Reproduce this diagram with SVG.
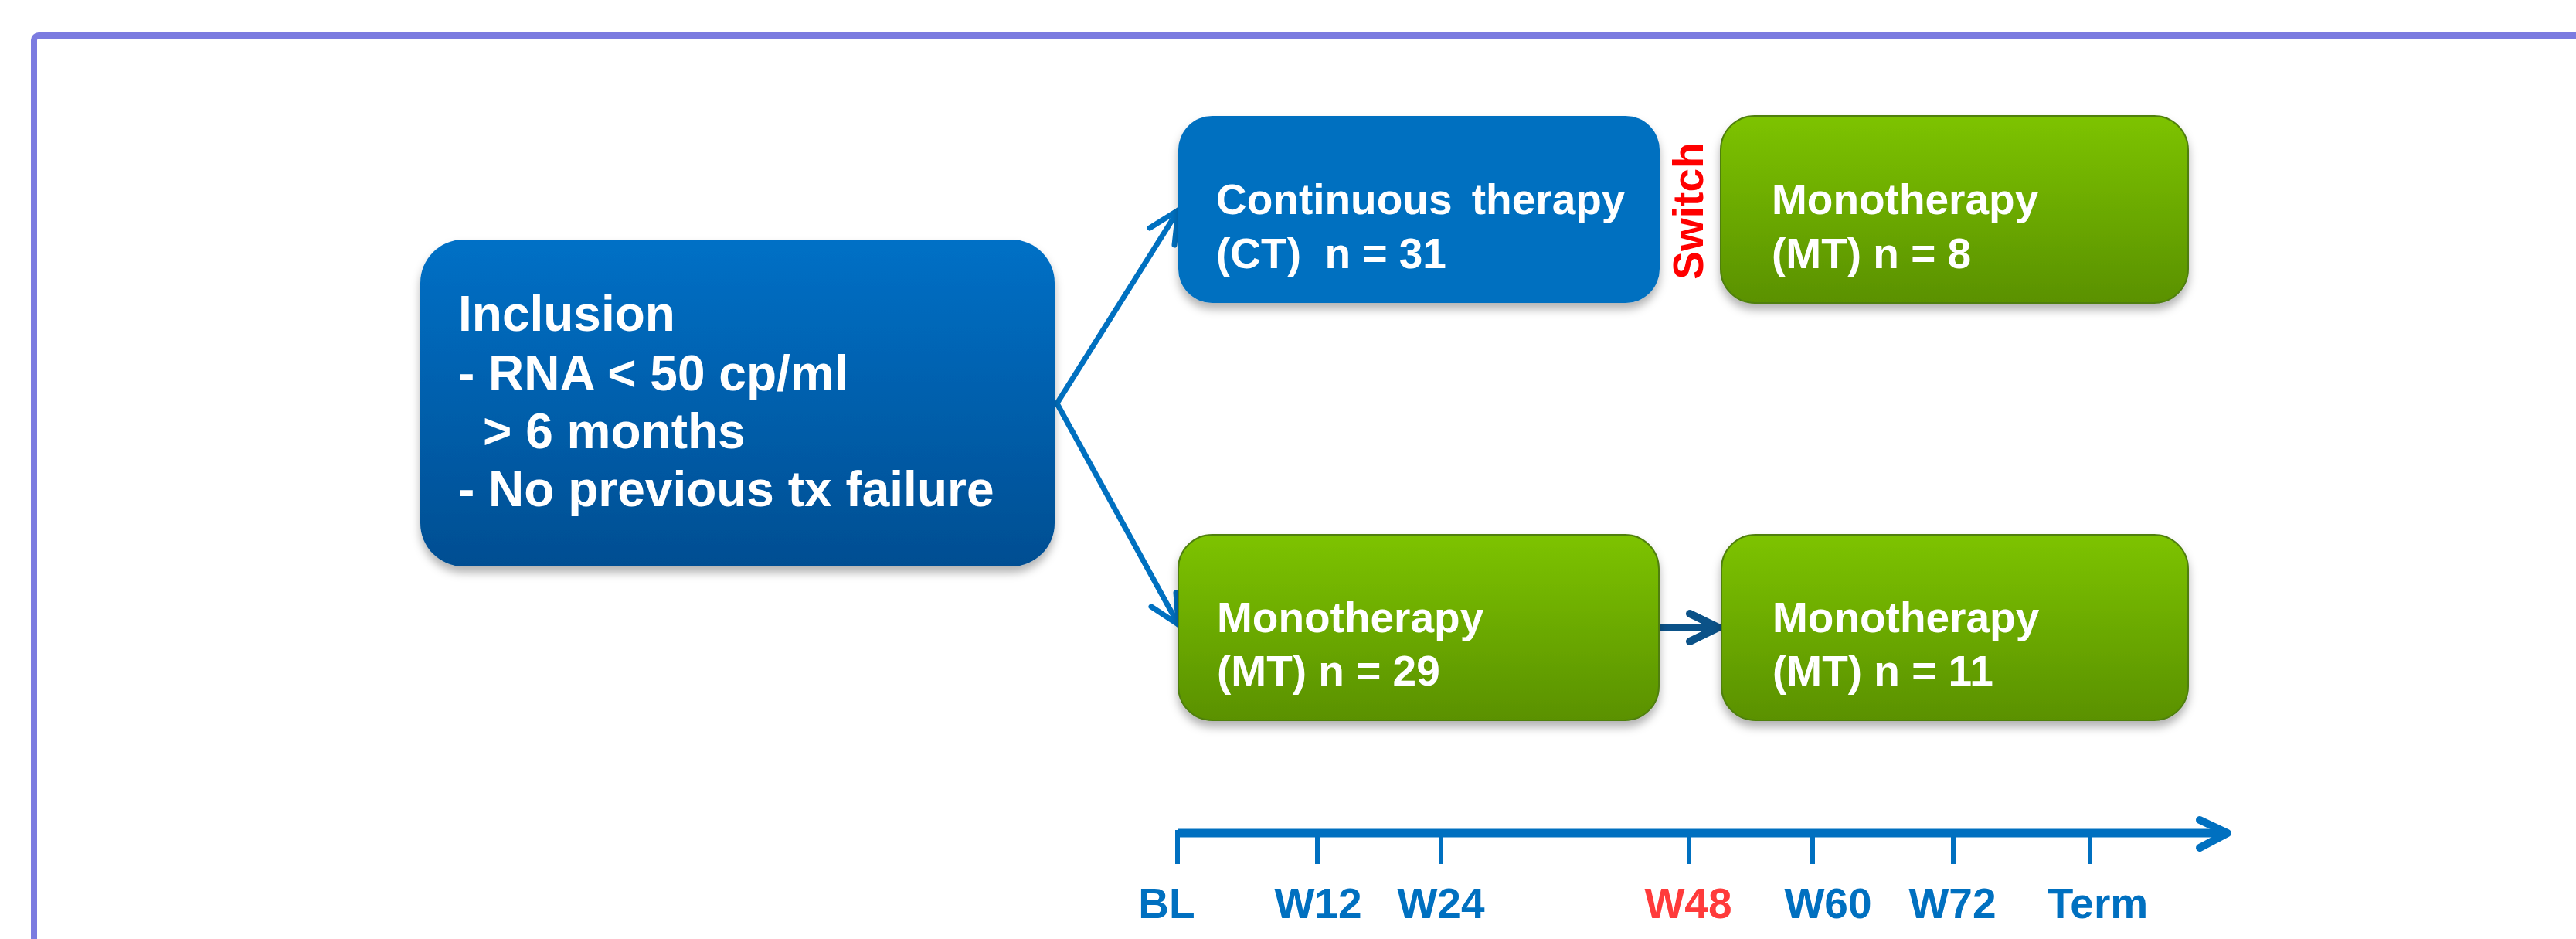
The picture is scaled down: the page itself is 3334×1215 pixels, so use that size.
<svg xmlns="http://www.w3.org/2000/svg" width="3334" height="1215" viewBox="0 0 3334 1215">
<style>
.t{font-family:"Liberation Sans",Arial,sans-serif;font-weight:bold;fill:#FFFFFF;}
.ax{font-family:"Liberation Sans",Arial,sans-serif;font-weight:bold;fill:#0070C0;font-size:55px;text-anchor:middle;}
.conn{stroke:#0070C0;stroke-width:7;fill:none;stroke-linecap:round;stroke-linejoin:round;}
.tick{stroke:#0070C0;stroke-width:6;fill:none;}
</style>
<defs>
<linearGradient id="gBlue" x1="0" y1="0" x2="0" y2="1">
<stop offset="0" stop-color="#0070C6"/>
<stop offset="1" stop-color="#004E92"/>
</linearGradient>
<linearGradient id="gGreen" x1="0" y1="0" x2="0" y2="1">
<stop offset="0" stop-color="#7DC300"/>
<stop offset="1" stop-color="#5A9100"/>
</linearGradient>
<filter id="sh" x="-10%" y="-10%" width="120%" height="130%">
<feDropShadow dx="0" dy="8" stdDeviation="6" flood-color="#000" flood-opacity="0.3"/>
</filter>
</defs>
<rect width="3334" height="1215" fill="#FFFFFF"/>
<rect x="44" y="46" width="3400" height="1300" rx="6" fill="none" stroke="#7B7BE0" stroke-width="8"/>

<g id="connectors">
<path class="conn" d="M1368,522 L1525,272"/>
<path class="conn" d="M1488,295 L1525,272 L1520,317"/>
<path class="conn" d="M1368,522 L1525,808"/>
<path class="conn" d="M1490,785 L1525,808 L1522,767"/>
<path d="M2147,812 L2222,812" stroke="#0B5288" stroke-width="10" fill="none"/>
<path d="M2187,794 L2224,812 L2187,830" stroke="#0B5288" stroke-width="10" fill="none" stroke-linecap="round" stroke-linejoin="round"/>
</g>

<g id="inclusion">
<rect x="544" y="310" width="821" height="423" rx="56" fill="url(#gBlue)" filter="url(#sh)"/>
<text class="t" font-size="64" x="593" y="428">Inclusion</text>
<text class="t" font-size="64" x="593" y="505">- RNA &lt; 50 cp/ml</text>
<text class="t" font-size="64" x="625" y="580">&gt; 6 months</text>
<text class="t" font-size="64" x="593" y="655">- No previous tx failure</text>
</g>

<g id="ct">
<rect x="1525" y="150" width="623" height="242" rx="44" fill="#0070C0" filter="url(#sh)"/>
<text class="t" font-size="55" x="1574" y="277" word-spacing="10">Continuous therapy</text>
<text class="t" font-size="55" x="1574" y="347" xml:space="preserve">(CT)  n = 31</text>
</g>

<g id="switch">
<text font-family="Liberation Sans, Arial, sans-serif" font-weight="bold" font-size="55" fill="#FF0000" text-anchor="middle" transform="translate(2204,273) rotate(-90)">Switch</text>
</g>

<g id="mt8">
<rect x="2227" y="150" width="605" height="242" rx="44" fill="url(#gGreen)" stroke="#4F7F10" stroke-width="2" filter="url(#sh)"/>
<text class="t" font-size="55" x="2293" y="277">Monotherapy</text>
<text class="t" font-size="55" x="2293" y="347">(MT) n = 8</text>
</g>

<g id="mt29">
<rect x="1525" y="692" width="622" height="240" rx="44" fill="url(#gGreen)" stroke="#4F7F10" stroke-width="2" filter="url(#sh)"/>
<text class="t" font-size="55" x="1575" y="818">Monotherapy</text>
<text class="t" font-size="55" x="1575" y="887">(MT) n = 29</text>
</g>

<g id="mt11">
<rect x="2228" y="692" width="604" height="240" rx="44" fill="url(#gGreen)" stroke="#4F7F10" stroke-width="2" filter="url(#sh)"/>
<text class="t" font-size="55" x="2294" y="818">Monotherapy</text>
<text class="t" font-size="55" x="2294" y="887">(MT) n = 11</text>
</g>

<g id="timeline">
<path d="M1524,1078 L2880,1078" stroke="#0070C0" stroke-width="11" fill="none"/>
<path d="M2847,1061 L2883,1078 L2847,1097" stroke="#0070C0" stroke-width="10" fill="none" stroke-linecap="round" stroke-linejoin="round"/>
<path class="tick" d="M1524,1074 V1118 M1705,1078 V1118 M1865,1078 V1118 M2186,1078 V1118 M2346,1078 V1118 M2528,1078 V1118 M2705,1078 V1118"/>
<text class="ax" x="1510" y="1188">BL</text>
<text class="ax" x="1706" y="1188">W12</text>
<text class="ax" x="1865" y="1188">W24</text>
<text class="ax" x="2185" y="1188" style="fill:#FF3B3B">W48</text>
<text class="ax" x="2366" y="1188">W60</text>
<text class="ax" x="2527" y="1188">W72</text>
<text class="ax" x="2715" y="1188">Term</text>
</g>
</svg>
